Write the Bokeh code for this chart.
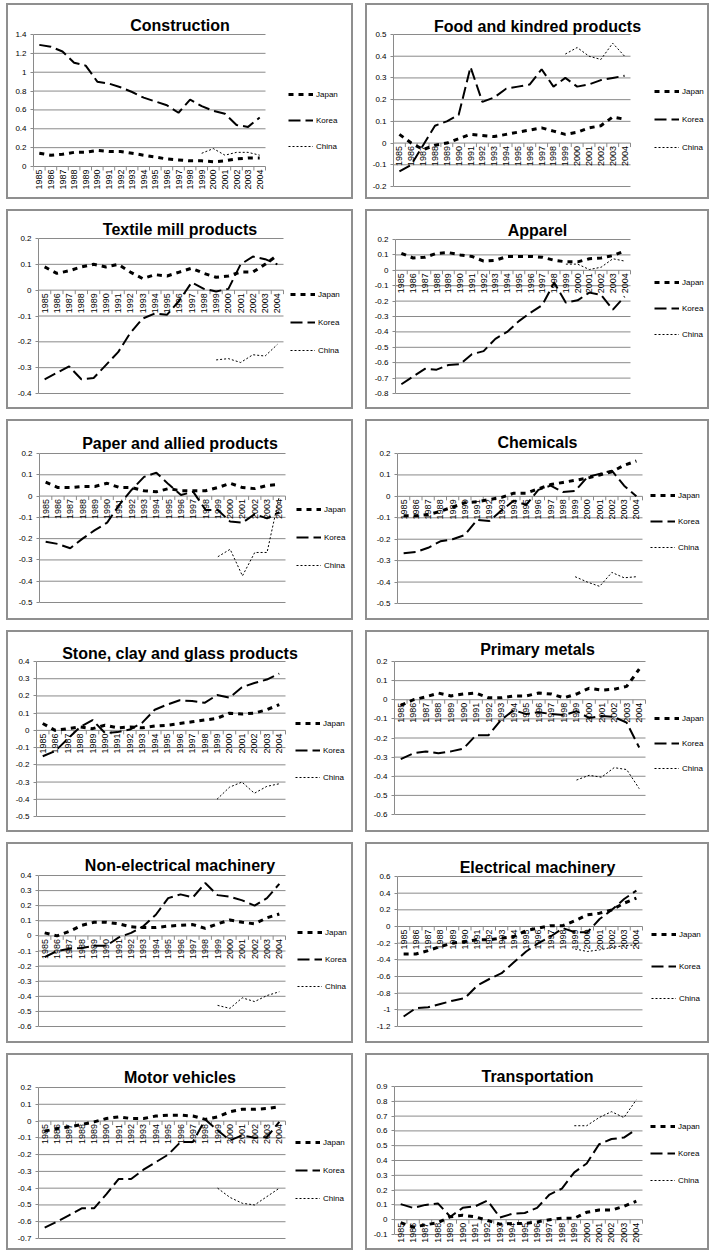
import math

from bokeh.core.properties import value
from bokeh.embed import file_html
from bokeh.layouts import column, row
from bokeh.models import (ColumnDataSource, CustomJSTickFormatter, FixedTicker, Label,
                          LabelSet, Legend, LegendItem, Range1d)
from bokeh.plotting import figure
from bokeh.resources import INLINE

# ---------------------------------------------------------------- data
YEARS = [str(y) for y in range(1985, 2005)]
CHINA_YEARS = YEARS[14:]          # China series starts in 1999
SERIES = ["Japan", "Korea", "China"]

CONSTRUCTION_JAPAN = [0.14, 0.12, 0.13, 0.15, 0.15, 0.17, 0.16, 0.16, 0.14, 0.12,
                      0.10, 0.08, 0.07, 0.06, 0.06, 0.05, 0.06, 0.08, 0.09, 0.09]
CONSTRUCTION_KOREA = [1.29, 1.27, 1.22, 1.10, 1.07, 0.90, 0.88, 0.84, 0.79, 0.73,
                      0.69, 0.65, 0.57, 0.71, 0.64, 0.59, 0.56, 0.44, 0.42, 0.52]
CONSTRUCTION_CHINA = [0.14, 0.19, 0.12, 0.15, 0.15, 0.12]

FOOD_JAPAN = [0.04, 0.00, -0.03, -0.01, 0.00, 0.02, 0.04, 0.035, 0.03, 0.04,
              0.05, 0.06, 0.07, 0.055, 0.04, 0.05, 0.07, 0.08, 0.12, 0.11]
FOOD_KOREA = [-0.13, -0.10, -0.01, 0.08, 0.10, 0.13, 0.35, 0.19, 0.21, 0.25,
              0.26, 0.27, 0.34, 0.26, 0.30, 0.26, 0.27, 0.29, 0.30, 0.31]
FOOD_CHINA = [0.41, 0.44, 0.40, 0.385, 0.46, 0.40]

TEXTILE_JAPAN = [0.09, 0.065, 0.075, 0.09, 0.10, 0.09, 0.10, 0.07, 0.045, 0.06,
                 0.055, 0.07, 0.085, 0.065, 0.05, 0.055, 0.07, 0.07, 0.10, 0.135]
TEXTILE_KOREA = [-0.345, -0.32, -0.295, -0.345, -0.34, -0.29, -0.24, -0.165, -0.11, -0.09,
                 -0.095, -0.04, 0.03, 0.005, -0.005, 0.005, 0.10, 0.13, 0.12, 0.10]
TEXTILE_CHINA = [-0.27, -0.265, -0.28, -0.25, -0.255, -0.21]

APPAREL_JAPAN = [0.11, 0.08, 0.085, 0.11, 0.115, 0.10, 0.09, 0.06, 0.065, 0.09,
                 0.09, 0.09, 0.085, 0.065, 0.055, 0.055, 0.075, 0.08, 0.095, 0.125]
APPAREL_KOREA = [-0.74, -0.69, -0.64, -0.645, -0.615, -0.61, -0.545, -0.525, -0.445, -0.40,
                 -0.33, -0.275, -0.225, -0.08, -0.21, -0.195, -0.145, -0.16, -0.255, -0.17]
APPAREL_CHINA = [0.04, 0.04, 0.005, 0.02, 0.075, 0.06]

PAPER_JAPAN = [0.065, 0.04, 0.04, 0.045, 0.045, 0.06, 0.04, 0.04, 0.025, 0.02,
               0.035, 0.025, 0.025, 0.025, 0.04, 0.06, 0.04, 0.035, 0.05, 0.055]
PAPER_KOREA = [-0.215, -0.225, -0.245, -0.20, -0.16, -0.125, -0.04, 0.03, 0.09, 0.11,
               0.055, 0.005, 0.02, -0.065, -0.065, -0.12, -0.125, -0.085, -0.105, -0.075]
PAPER_CHINA = [-0.285, -0.25, -0.375, -0.265, -0.265, 0.0]

CHEMICALS_JAPAN = [-0.09, -0.09, -0.085, -0.07, -0.05, -0.03, -0.025, -0.015, -0.005, 0.015,
                   0.015, 0.035, 0.055, 0.065, 0.075, 0.085, 0.10, 0.115, 0.145, 0.165]
CHEMICALS_KOREA = [-0.265, -0.26, -0.24, -0.21, -0.20, -0.18, -0.11, -0.115, -0.065, -0.02,
                   -0.04, 0.03, 0.05, 0.02, 0.025, 0.09, 0.105, 0.12, 0.05, 0.0]
CHEMICALS_CHINA = [-0.375, -0.40, -0.42, -0.355, -0.38, -0.375]

STONE_JAPAN = [0.04, 0.0, 0.01, 0.02, 0.01, 0.03, 0.015, 0.02, 0.015, 0.025,
               0.03, 0.04, 0.05, 0.06, 0.07, 0.10, 0.095, 0.10, 0.12, 0.15]
STONE_KOREA = [-0.15, -0.12, -0.05, 0.02, 0.06, -0.015, -0.01, 0.005, 0.045, 0.12,
               0.15, 0.175, 0.17, 0.16, 0.205, 0.19, 0.25, 0.275, 0.295, 0.33]
STONE_CHINA = [-0.40, -0.33, -0.30, -0.365, -0.325, -0.31]

METALS_JAPAN = [-0.03, 0.0, 0.015, 0.035, 0.02, 0.03, 0.035, 0.01, 0.01, 0.02,
                0.02, 0.035, 0.03, 0.01, 0.03, 0.06, 0.05, 0.055, 0.07, 0.16]
METALS_KOREA = [-0.31, -0.28, -0.27, -0.28, -0.27, -0.255, -0.185, -0.185, -0.105, -0.055,
                -0.075, -0.065, -0.075, -0.08, -0.06, -0.095, -0.085, -0.09, -0.12, -0.25]
METALS_CHINA = [-0.42, -0.395, -0.405, -0.355, -0.365, -0.465]

NONELEC_JAPAN = [0.02, 0.0, 0.03, 0.07, 0.09, 0.09, 0.08, 0.06, 0.055, 0.055,
                 0.065, 0.07, 0.075, 0.05, 0.08, 0.105, 0.09, 0.08, 0.12, 0.145]
NONELEC_KOREA = [-0.14, -0.10, -0.085, -0.08, -0.065, -0.065, -0.01, 0.02, 0.065, 0.14,
                 0.25, 0.275, 0.255, 0.35, 0.27, 0.26, 0.235, 0.20, 0.25, 0.345]
NONELEC_CHINA = [-0.46, -0.48, -0.41, -0.435, -0.395, -0.37]

ELEC_JAPAN = [-0.33, -0.33, -0.29, -0.24, -0.20, -0.18, -0.16, -0.16, -0.14, -0.12,
              -0.05, -0.02, 0.01, 0.01, 0.07, 0.14, 0.16, 0.20, 0.28, 0.34]
ELEC_KOREA = [-1.08, -0.98, -0.97, -0.93, -0.89, -0.86, -0.71, -0.63, -0.56, -0.43,
              -0.30, -0.20, -0.12, -0.02, -0.07, -0.07, 0.09, 0.20, 0.33, 0.43]
ELEC_CHINA = [-0.27, -0.30, -0.28, -0.25, -0.23, -0.22]

MOTOR_JAPAN = [-0.06, -0.045, -0.035, -0.02, -0.005, 0.015, 0.025, 0.015, 0.015, 0.03,
               0.035, 0.035, 0.03, 0.01, 0.025, 0.055, 0.07, 0.07, 0.075, 0.085]
MOTOR_KOREA = [-0.635, -0.60, -0.56, -0.52, -0.52, -0.435, -0.345, -0.345, -0.29, -0.245,
               -0.20, -0.125, -0.125, 0.01, -0.055, -0.115, -0.085, -0.10, -0.095, -0.005]
MOTOR_CHINA = [-0.40, -0.455, -0.49, -0.50, -0.45, -0.40]

TRANSPORT_JAPAN = [-0.02, -0.05, -0.035, -0.02, 0.02, 0.03, 0.02, -0.005, -0.03, -0.025,
                   -0.025, -0.015, 0.0, 0.01, 0.01, 0.05, 0.065, 0.065, 0.09, 0.125]
TRANSPORT_KOREA = [0.105, 0.08, 0.10, 0.11, 0.02, 0.08, 0.09, 0.13, 0.015, 0.04,
                   0.045, 0.08, 0.17, 0.21, 0.32, 0.38, 0.51, 0.545, 0.555, 0.61]
TRANSPORT_CHINA = [0.635, 0.635, 0.69, 0.73, 0.69, 0.81]

# ---------------------------------------------------------------- panel specs
# axis: (ymin, ymax, step); border: plot-area margins (left, right, top, bottom) in px;
# legend: (x of line sample, y of first entry, entry pitch) in px from panel top-left;
# title_y: baseline of the title from panel top.
PANELS = [
    dict(title="Construction", data=(CONSTRUCTION_JAPAN, CONSTRUCTION_KOREA, CONSTRUCTION_CHINA),
         axis=(0.0, 1.4, 0.2), border=(27, 88, 31, 33), legend=(282, 91, 26), title_y=22),
    dict(title="Food and kindred products", data=(FOOD_JAPAN, FOOD_KOREA, FOOD_CHINA),
         axis=(-0.2, 0.5, 0.1), border=(28, 79, 31, 13), legend=(289, 88, 28), title_y=23),
    dict(title="Textile mill products", data=(TEXTILE_JAPAN, TEXTILE_KOREA, TEXTILE_CHINA),
         axis=(-0.4, 0.2, 0.1), border=(32, 70, 29, 16), legend=(284, 86, 27.5), title_y=20),
    dict(title="Apparel", data=(APPAREL_JAPAN, APPAREL_KOREA, APPAREL_CHINA),
         axis=(-0.8, 0.2, 0.1), border=(30, 79, 30, 16), legend=(289, 74, 25.5), title_y=21),
    dict(title="Paper and allied products", data=(PAPER_JAPAN, PAPER_KOREA, PAPER_CHINA),
         axis=(-0.5, 0.2, 0.1), border=(33, 68, 34, 18), legend=(290, 90, 28), title_y=24),
    dict(title="Chemicals", data=(CHEMICALS_JAPAN, CHEMICALS_KOREA, CHEMICALS_CHINA),
         axis=(-0.5, 0.2, 0.1), border=(32, 67, 34, 17), legend=(285, 76, 26), title_y=23),
    dict(title="Stone, clay and glass products", data=(STONE_JAPAN, STONE_KOREA, STONE_CHINA),
         axis=(-0.5, 0.4, 0.1), border=(30, 68, 31, 16), legend=(289, 93, 27), title_y=23),
    dict(title="Primary metals", data=(METALS_JAPAN, METALS_KOREA, METALS_CHINA),
         axis=(-0.6, 0.2, 0.1), border=(29, 64, 31, 18), legend=(289, 88, 25), title_y=19),
    dict(title="Non-electrical machinery", data=(NONELEC_JAPAN, NONELEC_KOREA, NONELEC_CHINA),
         axis=(-0.6, 0.4, 0.1), border=(32, 68, 33, 17), legend=(291, 90, 27), title_y=23),
    dict(title="Electrical machinery", data=(ELEC_JAPAN, ELEC_KOREA, ELEC_CHINA),
         axis=(-1.2, 0.6, 0.2), border=(32, 67, 34, 17), legend=(286, 91, 32.5), title_y=25),
    dict(title="Motor vehicles", data=(MOTOR_JAPAN, MOTOR_KOREA, MOTOR_CHINA),
         axis=(-0.7, 0.2, 0.1), border=(32, 68, 34, 12), legend=(289, 89, 28), title_y=24),
    dict(title="Transportation", data=(TRANSPORT_JAPAN, TRANSPORT_KOREA, TRANSPORT_CHINA),
         axis=(-0.1, 0.9, 0.1), border=(29, 67, 33, 16), legend=(285, 73, 27), title_y=23),
]

COL_WIDTHS = [347, 344]
ROW_HEIGHTS = [196, 200, 201, 202, 201, 197]

FONT = "Liberation Sans"
GRID = "#8a8a8a"
LINE_STYLES = {
    "Japan": dict(line_width=3, line_dash="5 5"),
    "Korea": dict(line_width=2, line_dash="12 5"),
    "China": dict(line_width=1, line_dash="2 2"),
}


def make_panel(spec, width, height):
    ymin, ymax, step = spec["axis"]
    ml, mr, mt, mb = spec["border"]
    n_cat = len(YEARS)

    # The frame fills the panel right of the value axis, so that title, legend and
    # hanging year labels can all sit inside it; the ranges are widened so the
    # value area lands on the wanted plot-area rectangle.
    area_w = width - ml - mr
    area_h = height - mt - mb
    ux = n_cat / area_w
    uy = (ymax - ymin) / area_h

    p = figure(width=width, height=height, output_backend="svg", toolbar_location=None,
               x_range=Range1d(0, n_cat + mr * ux),
               y_range=Range1d(ymin - mb * uy, ymax + mt * uy),
               min_border_left=ml, min_border_right=0, min_border_top=0, min_border_bottom=0,
               background_fill_color=None, border_fill_color=None)
    p.styles = {"outline": "2px solid #8f8f8f", "outline-offset": "-2px"}
    p.outline_line_color = None
    p.xaxis.visible = False
    p.xgrid.visible = False
    p.ygrid.visible = False

    n_ticks = int(round((ymax - ymin) / step))
    ticks = [round(ymin + k * step, 2) for k in range(n_ticks + 1)]
    yax = p.yaxis[0]
    yax.ticker = FixedTicker(ticks=ticks)
    yax.bounds = (ymin, ymax)
    yax.formatter = CustomJSTickFormatter(code="return String(Number(tick.toFixed(2)) + 0);")
    yax.axis_line_color = GRID
    yax.major_tick_line_color = GRID
    yax.major_tick_out = 3
    yax.major_tick_in = 0
    yax.minor_tick_line_color = None
    yax.major_label_standoff = 4
    yax.major_label_text_font = FONT
    yax.major_label_text_font_size = "8px"
    yax.major_label_text_color = "black"

    # horizontal gridlines across the category span only
    p.segment(x0=[0] * len(ticks), y0=ticks, x1=[n_cat] * len(ticks), y1=ticks,
              line_color=GRID, line_width=1, level="underlay")

    # category axis crossing at zero: tick marks between categories and rotated year labels
    tick_len = 4 * uy
    edges = list(range(n_cat + 1))
    p.segment(x0=edges, y0=[0] * len(edges), x1=edges, y1=[-tick_len] * len(edges),
              line_color=GRID, line_width=1, level="underlay")
    year_src = ColumnDataSource(dict(x=[i + 0.5 for i in range(n_cat)], y=[0] * n_cat, year=YEARS))
    p.add_layout(LabelSet(x="x", y="y", text="year", source=year_src, angle=math.pi / 2,
                          text_align="right", text_baseline="middle", y_offset=-3,
                          text_font=value(FONT), text_font_size=value("9px"),
                          text_color="black", level="underlay"))

    japan, korea, china = spec["data"]
    xs_all = [YEARS.index(y) + 0.5 for y in YEARS]
    xs_china = [YEARS.index(y) + 0.5 for y in CHINA_YEARS]
    renderers = []
    for name, xs, ys in (("Japan", xs_all, japan), ("Korea", xs_all, korea), ("China", xs_china, china)):
        r = p.line(xs, ys, line_color="black", **LINE_STYLES[name])
        renderers.append(r)

    lx, ly, pitch = spec["legend"]
    legend_bottom = ly + 2 * pitch + 10
    legend = Legend(
        items=[LegendItem(label=name, renderers=[r]) for name, r in zip(SERIES, renderers)],
        location=(lx - ml, height - legend_bottom),
        orientation="vertical", padding=0, margin=0, spacing=int(round(pitch - 20)),
        glyph_width=25, glyph_height=20, label_height=20, label_standoff=3,
        label_text_font=FONT, label_text_font_size="8px", label_text_color="black",
        border_line_color=None, background_fill_alpha=0,
    )
    p.add_layout(legend)

    p.add_layout(Label(x=width / 2 - ml, y=height - spec["title_y"], x_units="screen", y_units="screen",
                       text=spec["title"], text_align="center", text_baseline="alphabetic",
                       text_font=FONT, text_font_size="16px", text_font_style="bold",
                       text_color="black"))
    return p


rows = []
for r, h in enumerate(ROW_HEIGHTS):
    pair = [make_panel(PANELS[2 * r + c], COL_WIDTHS[c], h) for c in range(2)]
    rows.append(row(*pair, spacing=12))

page = column(*rows, spacing=10, margin=(3, 0, 0, 6))

open("out.html", "w").write(file_html(page, INLINE))
